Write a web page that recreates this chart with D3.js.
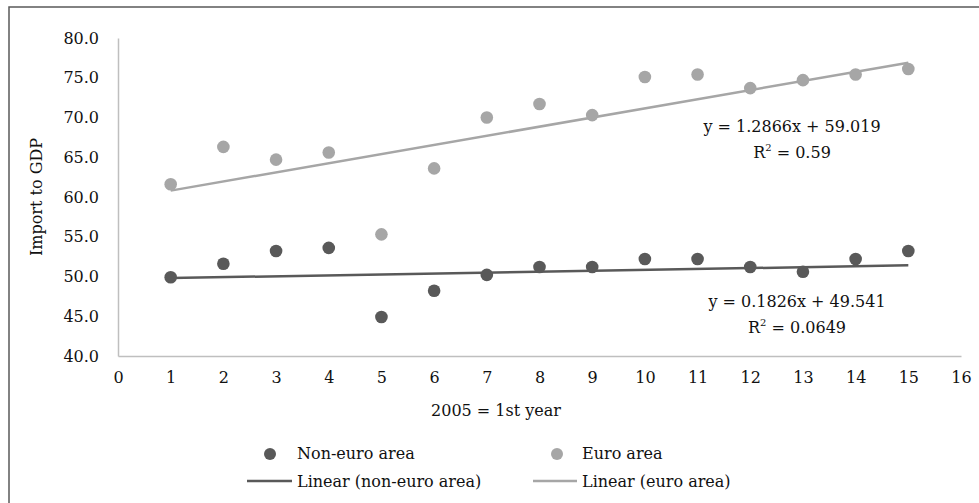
<!DOCTYPE html>
<meta charset="utf-8">
<title>Import to GDP</title>
<script src="https://d3js.org/d3.v7.min.js"></script>
<style>
  body { margin: 0; background: #fff; }
  text { font-family: "DejaVu Serif", serif; fill: #111; }
  .tick text { font-size: 16px; }
  .eq { font-size: 16px; text-anchor: middle; }
  .axis-title { font-size: 16px; text-anchor: middle; }
  .legend text { font-size: 16px; }
</style>
<div id="chart"></div>
<script>
// data
var years = [1, 2, 3, 4, 5, 6, 7, 8, 9, 10, 11, 12, 13, 14, 15];
var nonEuro = [49.9, 51.6, 53.2, 53.6, 44.9, 48.2, 50.2, 51.2, 51.2, 52.2, 52.2, 51.2, 50.6, 52.2, 53.2];
var euro = [61.6, 66.3, 64.7, 65.6, 55.3, 63.6, 70.0, 71.7, 70.3, 75.1, 75.4, 73.7, 74.7, 75.4, 76.1];
// trend line values at first and last year, as drawn
var nonEuroTrend = [49.8, 51.4];
var euroTrend = [60.8, 76.9];
// equation labels as printed
var nonEuroEq = ["y = 0.1826x + 49.541", "0.0649"];
var euroEq = ["y = 1.2866x + 59.019", "0.59"];
var xTicks = d3.range(0, 17);
var yTicks = [40, 45, 50, 55, 60, 65, 70, 75, 80];

var W = 979, H = 503;
var dark = "#595959", light = "#a6a6a6", axisCol = "#bfbfbf";

var svg = d3.select("#chart").append("svg")
    .attr("width", W)
    .attr("height", H);

// outer frame, runs off the right and bottom edges
svg.append("rect")
    .attr("x", 9).attr("y", 7)
    .attr("width", 1100).attr("height", 600)
    .attr("fill", "none")
    .attr("stroke", dark)
    .attr("stroke-width", 1.5);

var x = d3.scaleLinear().domain([0, 16]).range([118, 961]);
var y = d3.scaleLinear().domain([40, 80]).range([356, 38]);

// x axis
var gx = svg.append("g")
    .attr("transform", "translate(0," + y(40) + ")")
    .call(d3.axisBottom(x).tickValues(xTicks).tickSize(0).tickPadding(16).tickFormat(d3.format("d")));
gx.select(".domain").attr("stroke", axisCol).attr("stroke-width", 1.5);

// y axis
var gy = svg.append("g")
    .attr("transform", "translate(" + x(0) + ",0)")
    .call(d3.axisLeft(y).tickValues(yTicks).tickSize(0).tickPadding(19).tickFormat(d3.format(".1f")));
gy.select(".domain").attr("stroke", axisCol).attr("stroke-width", 1.5);

svg.selectAll(".tick text").attr("fill", "#111").style("font-family", "DejaVu Serif");

// trend lines
function trend(vals) {
  var ends = [years[0], years[years.length - 1]];
  return ends.map(function(t, i) { return [x(t), y(vals[i])]; });
}
var line = d3.line();
svg.append("path").attr("d", line(trend(euroTrend)))
    .attr("stroke", light).attr("stroke-width", 2.5).attr("fill", "none");
svg.append("path").attr("d", line(trend(nonEuroTrend)))
    .attr("stroke", dark).attr("stroke-width", 2.5).attr("fill", "none");

// points
svg.selectAll("circle.euro")
    .data(years)
    .enter().append("circle")
    .attr("class", "euro")
    .attr("cx", function(d) { return x(d); })
    .attr("cy", function(d, i) { return y(euro[i]); })
    .attr("r", 6.3)
    .attr("fill", light);

svg.selectAll("circle.noneuro")
    .data(years)
    .enter().append("circle")
    .attr("class", "noneuro")
    .attr("cx", function(d) { return x(d); })
    .attr("cy", function(d, i) { return y(nonEuro[i]); })
    .attr("r", 6.3)
    .attr("fill", dark);

// equation labels
function eq(lab, cx, by) {
  svg.append("text").attr("class", "eq")
      .attr("x", cx).attr("y", by)
      .text(lab[0]);
  var t = svg.append("text").attr("class", "eq")
      .attr("x", cx).attr("y", by + 26);
  t.append("tspan").text("R");
  t.append("tspan").attr("dy", -7).style("font-size", "10px").text("2");
  t.append("tspan").attr("dy", 7).text(" = " + lab[1]);
}
eq(euroEq, 792, 132);
eq(nonEuroEq, 797, 307);

// axis titles
svg.append("text").attr("class", "axis-title")
    .attr("transform", "translate(42," + ((y(40) + y(80)) / 2) + ") rotate(-90)")
    .text("Import to GDP");
svg.append("text").attr("class", "axis-title")
    .attr("x", 496).attr("y", 416)
    .text("2005 = 1st year");

// legend
var lg = svg.append("g").attr("class", "legend");
lg.append("circle").attr("cx", 270).attr("cy", 454).attr("r", 6).attr("fill", dark);
lg.append("text").attr("x", 297).attr("y", 459).text("Non-euro area");
lg.append("circle").attr("cx", 557).attr("cy", 454).attr("r", 6).attr("fill", light);
lg.append("text").attr("x", 582).attr("y", 459).text("Euro area");
lg.append("line").attr("x1", 247).attr("x2", 292).attr("y1", 481).attr("y2", 481)
    .attr("stroke", dark).attr("stroke-width", 2.5);
lg.append("text").attr("x", 297).attr("y", 487).text("Linear (non-euro area)");
lg.append("line").attr("x1", 533).attr("x2", 577).attr("y1", 481).attr("y2", 481)
    .attr("stroke", light).attr("stroke-width", 2.5);
lg.append("text").attr("x", 582).attr("y", 487).text("Linear (euro area)");
</script>
